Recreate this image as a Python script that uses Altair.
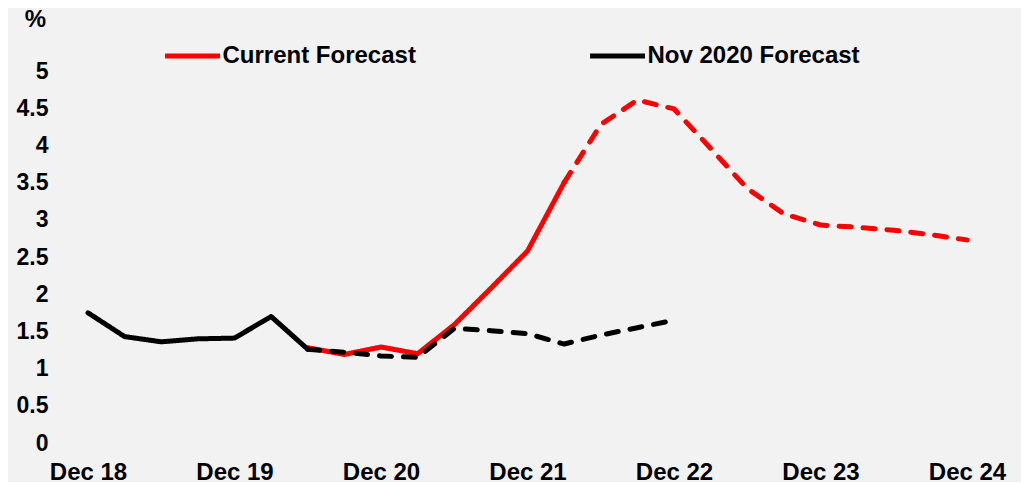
import altair as alt
import pandas as pd

quarters = ["Dec 18", "Mar 19", "Jun 19", "Sep 19", "Dec 19", "Mar 20", "Jun 20",
            "Sep 20", "Dec 20", "Mar 21", "Jun 21", "Sep 21", "Dec 21", "Mar 22",
            "Jun 22", "Sep 22", "Dec 22", "Mar 23", "Jun 23", "Sep 23", "Dec 23",
            "Mar 24", "Jun 24", "Sep 24", "Dec 24"]
year_labels = ["Dec 18", "Dec 19", "Dec 20", "Dec 21", "Dec 22", "Dec 23", "Dec 24"]
y_ticks = [0, 0.5, 1, 1.5, 2, 2.5, 3, 3.5, 4, 4.5, 5]

# history (black solid), Dec 18 .. Jun 20
history = [1.75, 1.43, 1.36, 1.40, 1.41, 1.70, 1.26]
# current forecast, outturn part (red solid), Jun 20 .. Mar 22
current_actual = [1.28, 1.19, 1.29, 1.20, 1.59, 2.08, 2.58, 3.50]
# current forecast, projection part (red dashed), Mar 22 .. Dec 24
current_proj = [3.50, 4.28, 4.61, 4.49, 3.96, 3.42, 3.08, 2.93, 2.90, 2.86, 2.80, 2.73]
# Nov 2020 forecast (black dashed), Jun 20 .. Dec 22
nov2020 = [1.26, 1.22, 1.17, 1.15, 1.54, 1.51, 1.47, 1.33, 1.45, 1.55, 1.65]

segments = [
    ("hist", "Nov 2020 Forecast", "solid", "Dec 18", history),
    ("cur_a", "Current Forecast", "solid", "Jun 20", current_actual),
    ("cur_p", "Current Forecast", "dashed", "Mar 22", current_proj),
    ("nov", "Nov 2020 Forecast", "dashed", "Jun 20", nov2020),
]
rows = []
for seg, series, style, start, vals in segments:
    s = quarters.index(start)
    for i, v in enumerate(vals):
        rows.append({"t": s + i, "q": quarters[s + i], "value": v,
                     "series": series, "style": style, "seg": seg})
df = pd.DataFrame(rows)

FONT = "Liberation Sans"
label_expr = "[" + ",".join("'%s'" % l for l in year_labels) + "][round(datum.value/4)]"

x = alt.X("t:Q", scale=alt.Scale(domain=[0, 24], nice=False, zero=False),
          axis=alt.Axis(values=list(range(0, 25, 4)), labelExpr=label_expr, title=None,
                        domain=False, ticks=False, tickSize=0, grid=False,
                        labelFlush=False, labelOverlap=False, labelBound=False,
                        labelPadding=17, labelFontSize=24, labelFont=FONT,
                        labelFontWeight="bold", labelColor="#000000"))
y = alt.Y("value:Q", scale=alt.Scale(domain=[0, 5], nice=False),
          axis=alt.Axis(values=y_ticks, format=".1~f", title="%", titleAngle=0,
                        titleX=-53, titleY=-52, titleAlign="center", titleBaseline="middle",
                        titleFontSize=24, titleFont=FONT, titleFontWeight="bold",
                        titleColor="#000000",
                        domain=False, ticks=False, tickSize=0, grid=False,
                        labelFlush=False, labelOverlap=False,
                        labelPadding=40, labelFontSize=23, labelFont=FONT,
                        labelFontWeight="bold", labelColor="#000000",
                        labelBaseline="middle"))
color = alt.Color("series:N",
                  scale=alt.Scale(domain=["Current Forecast", "Nov 2020 Forecast"],
                                  range=["#ff0000", "#000000"]),
                  legend=alt.Legend(orient="none", legendX=74.5, legendY=-45,
                                    direction="horizontal", title=None,
                                    symbolType="stroke", symbolSize=3025,
                                    symbolStrokeWidth=5, labelFontSize=24,
                                    labelFont=FONT, labelFontWeight="bold",
                                    labelColor="#000000", columnPadding=163,
                                    labelOffset=0, padding=0, labelLimit=0))
dash = alt.StrokeDash("style:N",
                      scale=alt.Scale(domain=["solid", "dashed"], range=[[1, 0], [12, 12]]),
                      legend=None)

base = alt.Chart(df)
red = base.transform_filter(alt.datum.series == "Current Forecast").mark_line(
    strokeWidth=5, strokeCap="round", strokeJoin="round"
).encode(x=x, y=y, color=color, strokeDash=dash, detail="seg:N", order="t:Q")
black = base.transform_filter(alt.datum.series == "Nov 2020 Forecast").mark_line(
    strokeWidth=5, strokeCap="round", strokeJoin="round"
).encode(x=x, y=y, color=color, strokeDash=dash, detail="seg:N", order="t:Q")

chart = alt.layer(red, black).properties(
    width=879, height=372,
    autosize=alt.AutoSizeParams(type="none"),
    padding={"left": 80, "top": 63, "right": 54, "bottom": 39},
    background="#f2f2f2",
).configure_view(strokeWidth=0)

chart.save("out.html", embed_options={"renderer": "svg", "actions": False})
